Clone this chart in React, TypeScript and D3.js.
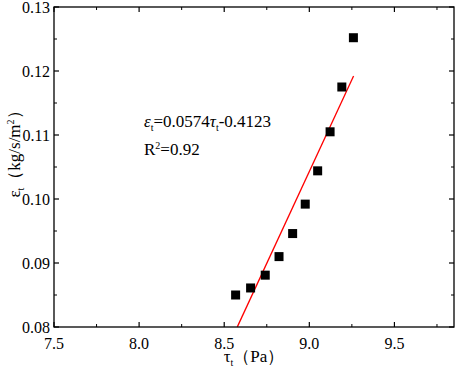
import React from "react";
import { scaleLinear, range } from "d3";

// measured points (tau_t in Pa, eps_t in kg/s/m2)
const tau = [8.567, 8.655, 8.741, 8.822, 8.902, 8.976, 9.049, 9.122, 9.191, 9.259];
const eps = [0.085, 0.0861, 0.0881, 0.091, 0.0946, 0.0992, 0.1044, 0.1105, 0.1175, 0.1252];

// linear fit eps = a * tau + b
const slope = 0.0574;
const intercept = -0.4123;
const fitRange = [8.577, 9.26];

const xTicks = [7.5, 8.0, 8.5, 9.0, 9.5];
const yTicks = [0.08, 0.09, 0.1, 0.11, 0.12, 0.13];

const W = 457;
const H = 372;
const margin = { top: 7, right: 3, bottom: 45, left: 54 };
const font = "Liberation Serif, DejaVu Serif, serif";

export default function App() {
  const x = scaleLinear().domain([7.5, 9.85]).range([margin.left, W - margin.right]);
  const y = scaleLinear().domain([0.08, 0.13]).range([H - margin.bottom, margin.top]);
  const [x0, x1] = x.range();
  const [y0, y1] = y.range(); // y0 bottom, y1 top

  const xMinor = range(7.75, 9.85, 0.5);
  const yMinor = range(0.085, 0.13, 0.01);
  const majorLen = 5;
  const minorLen = 3;
  const sq = 9;

  return (
    <svg width={W} height={H} style={{ position: "absolute", left: 0, top: 0, background: "#fff", fontFamily: font }}>
      <g fill="#000" style={{ fontFamily: font }}>
        {/* fit line */}
        <line
          x1={x(fitRange[0])}
          x2={x(fitRange[1])}
          y1={y(slope * fitRange[0] + intercept)}
          y2={y(slope * fitRange[1] + intercept)}
          stroke="#ff0000"
          strokeWidth={1.3}
        />
        {/* points */}
        {tau.map((t, i) => (
          <rect key={i} x={x(t) - sq / 2} y={y(eps[i]) - sq / 2} width={sq} height={sq} fill="#000" />
        ))}

        {/* frame */}
        <rect x={x0} y={y1} width={x1 - x0} height={y0 - y1} fill="none" stroke="#000" strokeWidth={1.3} />

        {/* x ticks, bottom and top */}
        {xTicks.map((t) => (
          <g key={"xt" + t}>
            <line x1={x(t)} x2={x(t)} y1={y0} y2={y0 - majorLen} stroke="#000" strokeWidth={1.2} />
            <line x1={x(t)} x2={x(t)} y1={y1} y2={y1 + majorLen} stroke="#000" strokeWidth={1.2} />
            <text x={x(t)} y={y0 + 22} textAnchor="middle" fontSize={16}>
              {t.toFixed(1)}
            </text>
          </g>
        ))}
        {xMinor.map((t) => (
          <g key={"xm" + t}>
            <line x1={x(t)} x2={x(t)} y1={y0} y2={y0 - minorLen} stroke="#000" strokeWidth={1} />
            <line x1={x(t)} x2={x(t)} y1={y1} y2={y1 + minorLen} stroke="#000" strokeWidth={1} />
          </g>
        ))}

        {/* y ticks, left and right */}
        {yTicks.map((t) => (
          <g key={"yt" + t}>
            <line x1={x0} x2={x0 + majorLen} y1={y(t)} y2={y(t)} stroke="#000" strokeWidth={1.2} />
            <line x1={x1} x2={x1 - majorLen} y1={y(t)} y2={y(t)} stroke="#000" strokeWidth={1.2} />
            <text x={x0 - 4} y={y(t)} dy="0.35em" textAnchor="end" fontSize={16}>
              {t.toFixed(2)}
            </text>
          </g>
        ))}
        {yMinor.map((t) => (
          <g key={"ym" + t}>
            <line x1={x0} x2={x0 + minorLen} y1={y(t)} y2={y(t)} stroke="#000" strokeWidth={1} />
            <line x1={x1} x2={x1 - minorLen} y1={y(t)} y2={y(t)} stroke="#000" strokeWidth={1} />
          </g>
        ))}

        {/* axis titles */}
        <text x={(x0 + x1) / 2} y={H - 10} textAnchor="middle" fontSize={17}>
          τ<tspan fontSize={10} dy={4}>t</tspan>
          <tspan dy={-4}>（Pa）</tspan>
        </text>
        <text transform={`translate(20, 150) rotate(-90)`} textAnchor="middle" fontSize={17}>
          ε<tspan fontSize={10} dy={4}>t</tspan>
          <tspan dy={-4}>（kg/s/m</tspan>
          <tspan fontSize={10} dy={-6}>2</tspan>
          <tspan dy={6}>）</tspan>
        </text>

        {/* fit annotation */}
        <text x={144} y={127} fontSize={17}>
          <tspan fontStyle="italic">ε</tspan>
          <tspan fontSize={10} dy={4}>t</tspan>
          <tspan dy={-4}>=0.0574</tspan>
          <tspan fontStyle="italic">τ</tspan>
          <tspan fontSize={10} dy={4}>t</tspan>
          <tspan dy={-4}>-0.4123</tspan>
        </text>
        <text x={144} y={155} fontSize={17}>
          R<tspan fontSize={10} dy={-6}>2</tspan>
          <tspan dy={6}>=0.92</tspan>
        </text>
      </g>
    </svg>
  );
}
